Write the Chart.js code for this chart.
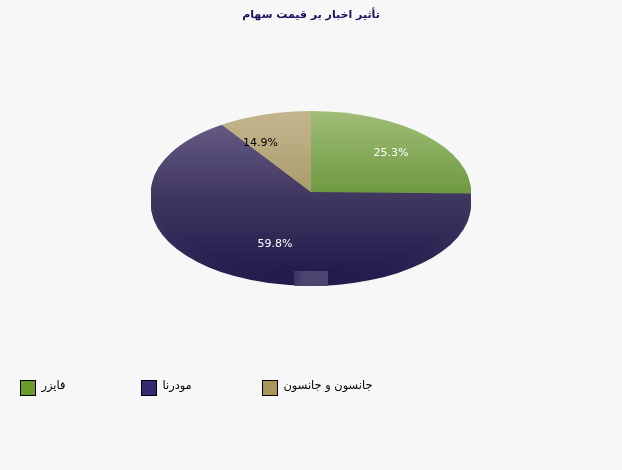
<!DOCTYPE html>
<html>
<head>
<meta charset="utf-8">
<script src="https://cdn.jsdelivr.net/npm/chart.js@4/dist/chart.umd.min.js"></script>
<style>
  html, body { margin: 0; padding: 0; background: #f7f7f7; }
  canvas { display: block; }
</style>
</head>
<body>
<canvas id="chart" width="622" height="470"></canvas>
<script>
const chartTitle = 'تأثیر اخبار بر قیمت سهام';
const categories = [ 'فایزر', 'مودرنا', 'جانسون و جانسون' ];
// the percentages printed on the slices
const printedPercents = [ 25.3, 59.8, 14.9 ];
const drawnShares = [ 25.3, 65.3, 9.4 ];
const legendColors = [ '#6b9a2c', '#352a72', '#a8965a' ];
const labelColors = [ '#ffffff', '#ffffff', '#000000' ];

const SQUASH = 0.506;
const DEPTH = 13;
const legendX = [ 20, 141, 262 ];
const legendY = 380;

const sliceGradient = ( ctx, index ) => {
  const stops = [
    [ '#a0bd77', '#6f9a42' ],
    [ '#635982', '#231b4c' ],
    [ '#c4b58f', '#ab9c6c' ],
  ][ index ];
  const from = index === 1 ? 60 : 32;
  const to = index === 1 ? 352 : 192;
  const g = ctx.createLinearGradient( 0, from, 0, to );
  g.addColorStop( 0, stops[ 0 ] );
  if ( index === 1 ) {
    g.addColorStop( 0.5, '#3f3660' );
  }
  g.addColorStop( 1, stops[ 1 ] );
  return g;
};

const squashPlugin = {
  id: 'squash',
  beforeDatasetsDraw( chart ) {
    const ctx = chart.ctx;
    const arcs = chart.getDatasetMeta( 0 ).data;
    const cy = arcs[ 0 ].y;
    for ( let off = DEPTH; off > 0; off-- ) {
      ctx.save();
      ctx.translate( 0, cy + off );
      ctx.scale( 1, SQUASH );
      ctx.translate( 0, -cy );
      arcs.forEach( ( arc ) => arc.draw( ctx ) );
      ctx.restore();
    }
    ctx.save();
    ctx.translate( 0, cy );
    ctx.scale( 1, SQUASH );
    ctx.translate( 0, -cy );
  },
  afterDatasetsDraw( chart ) {
    const ctx = chart.ctx;
    ctx.restore();

    const arc = chart.getDatasetMeta( 0 ).data[ 0 ];
    const r = arc.outerRadius;

    // small lighter patch on the rim at the bottom of the pie
    ctx.save();
    ctx.beginPath();
    ctx.ellipse( arc.x, arc.y + DEPTH, r, r * SQUASH, 0, 0, Math.PI * 2 );
    ctx.clip();
    const shine = ctx.createLinearGradient( arc.x - 17, 0, arc.x + 17, 0 );
    shine.addColorStop( 0, '#3b3262' );
    shine.addColorStop( 0.3, '#4f4670' );
    shine.addColorStop( 1, '#4b4270' );
    ctx.fillStyle = shine;
    ctx.fillRect( arc.x - 17, 271, 34, 16 );
    ctx.restore();

    // percent labels sit at the middle of the printed shares
    ctx.font = '11px "DejaVu Sans"';
    ctx.textAlign = 'center';
    ctx.textBaseline = 'middle';
    let sum = 0;
    printedPercents.forEach( ( p, i ) => {
      const mid = ( sum + p / 2 ) / 100 * Math.PI * 2;
      sum += p;
      ctx.fillStyle = labelColors[ i ];
      ctx.fillText(
        p.toFixed( 1 ) + '%',
        arc.x + Math.sin( mid ) * r * 0.7,
        arc.y - Math.cos( mid ) * r * SQUASH * 0.68
      );
    } );

    // legend with a fixed pitch
    ctx.textAlign = 'left';
    ctx.font = '11.4px "DejaVu Sans"';
    categories.forEach( ( name, i ) => {
      ctx.fillStyle = legendColors[ i ];
      ctx.fillRect( legendX[ i ], legendY, 16, 16 );
      ctx.strokeStyle = '#000000';
      ctx.lineWidth = 1;
      ctx.strokeRect( legendX[ i ] + 0.5, legendY + 0.5, 15, 15 );
      ctx.fillStyle = '#000000';
      ctx.fillText( name, legendX[ i ] + 21.5, legendY + 6 );
    } );
  },
};

new Chart( document.getElementById( 'chart' ), {
  type: 'pie',
  data: {
    labels: categories,
    datasets: [ {
      data: drawnShares,
      backgroundColor: ( context ) => sliceGradient( context.chart.ctx, context.dataIndex ),
      borderWidth: 0,
    } ]
  },
  plugins: [ squashPlugin ],
  options: {
    responsive: false,
    animation: false,
    layout: {
      padding: { bottom: 118 },
    },
    plugins: {
      legend: {
        display: false,
      },
      tooltip: {
        enabled: false,
      },
      title: {
        display: true,
        text: chartTitle,
        color: '#1a1062',
        font: { family: '"DejaVu Sans"', size: 11, weight: 'bold' },
        padding: { top: 8.4, bottom: 10.4 },
      },
    },
  },
} );
</script>
</body>
</html>
